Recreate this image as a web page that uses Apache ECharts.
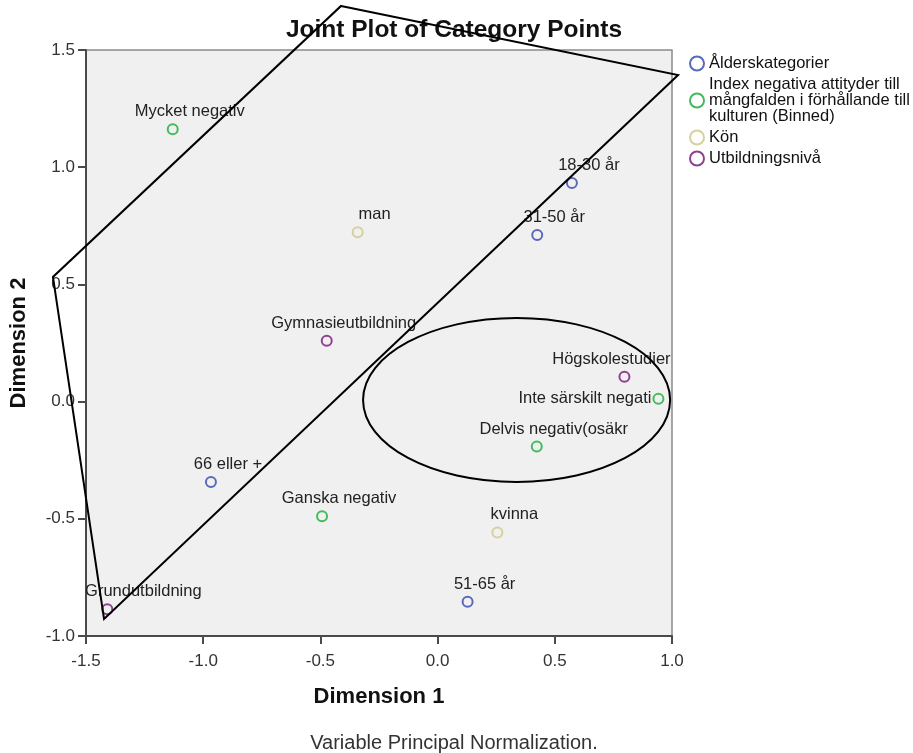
<!DOCTYPE html>
<html>
<head>
<meta charset="utf-8">
<script src="https://cdn.jsdelivr.net/npm/echarts@6/dist/echarts.min.js"></script>
<style>
html,body{margin:0;padding:0;background:#fff;}
#c{width:913px;height:753px;}
</style>
</head>
<body>
<div id="c"></div>
<script>
// ---- data ----
const seriesNames = [
  'Ålderskategorier',
  'Index negativa attityder till\nmångfalden i förhållande till\nkulturen (Binned)',
  'Kön',
  'Utbildningsnivå'
];
// [dimension1, dimension2, label]
const alderPoints = [
  [0.573, 0.933, '18-30 år'],
  [0.425, 0.711, '31-50 år'],
  [0.128, -0.854, '51-65 år'],
  [-0.967, -0.343, '66 eller +']
];
const indexPoints = [
  [-1.130, 1.162, 'Mycket negativ'],
  [-0.493, -0.489, 'Ganska negativ'],
  [0.423, -0.192, 'Delvis negativ(osäkr'],
  [0.942, 0.012, 'Inte särskilt negati']
];
const konPoints = [
  [-0.341, 0.722, 'man'],
  [0.255, -0.558, 'kvinna']
];
const utbildningPoints = [
  [-0.473, 0.260, 'Gymnasieutbildning'],
  [0.797, 0.106, 'Högskolestudier'],
  [-1.409, -0.886, 'Grundutbildning']
];
const xTicks = [-1.5, -1.0, -0.5, 0.0, 0.5, 1.0];
const yTicks = [-1.0, -0.5, 0.0, 0.5, 1.0, 1.5];
// hand-drawn annotations (data coordinates)
const annotationPolygon = [
  [-0.412, 1.688], [1.026, 1.393], [-1.423, -0.927], [-1.641, 0.532]
];
const annotationEllipse = { cx: 0.337, cy: 0.007, rx: 0.655, ry: 0.350 };

// ---- styles ----
const colors = ['#5a69b9', '#43bb5d', '#d5d09e', '#8f4190'];
const FONT = 'Arial, "Liberation Sans", sans-serif';
const labelTweaks = {
  'Grundutbildning': { offset: [36, 0] },
  'Högskolestudier': { offset: [-13, 0] },
  'Inte särskilt negati': { position: 'left', distance: 1, offset: [0, 0] }
};

const groups = [alderPoints, indexPoints, konPoints, utbildningPoints];

function makeSeries(points, i) {
  return {
    type: 'scatter',
    name: seriesNames[i],
    symbol: 'circle',
    symbolSize: 10,
    itemStyle: { color: 'rgba(0,0,0,0)', borderColor: colors[i], borderWidth: 2, opacity: 1 },
    label: {
      show: true,
      position: 'top',
      distance: 3,
      offset: [17, 0],
      color: '#222',
      fontSize: 16.5,
      fontFamily: FONT,
      formatter: p => p.data.name
    },
    emphasis: { disabled: true },
    data: points.map(p => {
      const d = { value: [p[0], p[1]], name: p[2] };
      if (labelTweaks[p[2]]) d.label = labelTweaks[p[2]];
      return d;
    }),
    z: 3
  };
}

const chart = echarts.init(document.getElementById('c'), null, { renderer: 'canvas' });

const option = {
  animation: false,
  backgroundColor: '#ffffff',
  title: [
    {
      text: 'Joint Plot of Category Points',
      left: 449, top: 13, textAlign: 'center',
      textStyle: { fontFamily: FONT, fontSize: 24.5, fontWeight: 'bold', color: '#111' }
    },
    {
      text: 'Variable Principal Normalization.',
      left: 449, top: 728, textAlign: 'center',
      textStyle: { fontFamily: FONT, fontSize: 20, fontWeight: 'normal', color: '#333' }
    }
  ],
  legend: {
    orient: 'vertical',
    left: 684, top: 50,
    itemWidth: 14, itemHeight: 14, itemGap: 4,
    icon: 'circle',
    data: seriesNames,
    selectedMode: false,
    textStyle: { fontFamily: FONT, fontSize: 16.5, lineHeight: 16, color: '#111' }
  },
  grid: {
    left: 86, top: 50, width: 586, height: 586,
    show: true, backgroundColor: '#f0f0f0', borderColor: '#8a8a8a', borderWidth: 1.5
  },
  xAxis: {
    type: 'value', min: -1.5, max: 1.0, interval: 0.5,
    name: 'Dimension 1', nameLocation: 'middle', nameGap: 50,
    nameTextStyle: { fontFamily: FONT, fontSize: 22, fontWeight: 'bold', color: '#111' },
    axisLine: { show: true, onZero: false, lineStyle: { color: '#4a4a4a', width: 2 } },
    axisTick: { show: true, inside: false, length: 8, lineStyle: { color: '#4a4a4a', width: 2 } },
    axisLabel: { margin: 17, fontFamily: FONT, fontSize: 17, color: '#333',
      formatter: v => xTicks.includes(+v.toFixed(1)) ? v.toFixed(1) : '' },
    splitLine: { show: false }
  },
  yAxis: {
    type: 'value', min: -1.0, max: 1.5, interval: 0.5,
    name: 'Dimension 2', nameLocation: 'middle', nameGap: 56,
    nameTextStyle: { fontFamily: FONT, fontSize: 22, fontWeight: 'bold', color: '#111' },
    axisLine: { show: true, onZero: false, lineStyle: { color: '#4a4a4a', width: 2 } },
    axisTick: { show: true, inside: false, length: 8, lineStyle: { color: '#4a4a4a', width: 2 } },
    axisLabel: { margin: 11, fontFamily: FONT, fontSize: 17, color: '#333',
      formatter: v => yTicks.includes(+v.toFixed(1)) ? v.toFixed(1) : '' },
    splitLine: { show: false }
  },
  series: groups.map(makeSeries)
};

chart.setOption(option);

// annotations, placed through the axes
const toPx = p => chart.convertToPixel({ gridIndex: 0 }, p);
const c = toPx([annotationEllipse.cx, annotationEllipse.cy]);
const e1 = toPx([annotationEllipse.cx + annotationEllipse.rx, annotationEllipse.cy + annotationEllipse.ry]);
chart.setOption({
  graphic: [
    {
      type: 'ellipse',
      shape: { cx: c[0], cy: c[1], rx: Math.abs(e1[0] - c[0]), ry: Math.abs(e1[1] - c[1]) },
      style: { fill: 'none', stroke: '#000', lineWidth: 2 },
      silent: true,
      z: 100
    },
    {
      type: 'polygon',
      shape: { points: annotationPolygon.map(toPx) },
      style: { fill: 'none', stroke: '#000', lineWidth: 2, lineJoin: 'miter' },
      silent: true,
      z: 100
    }
  ]
});
</script>
</body>
</html>
